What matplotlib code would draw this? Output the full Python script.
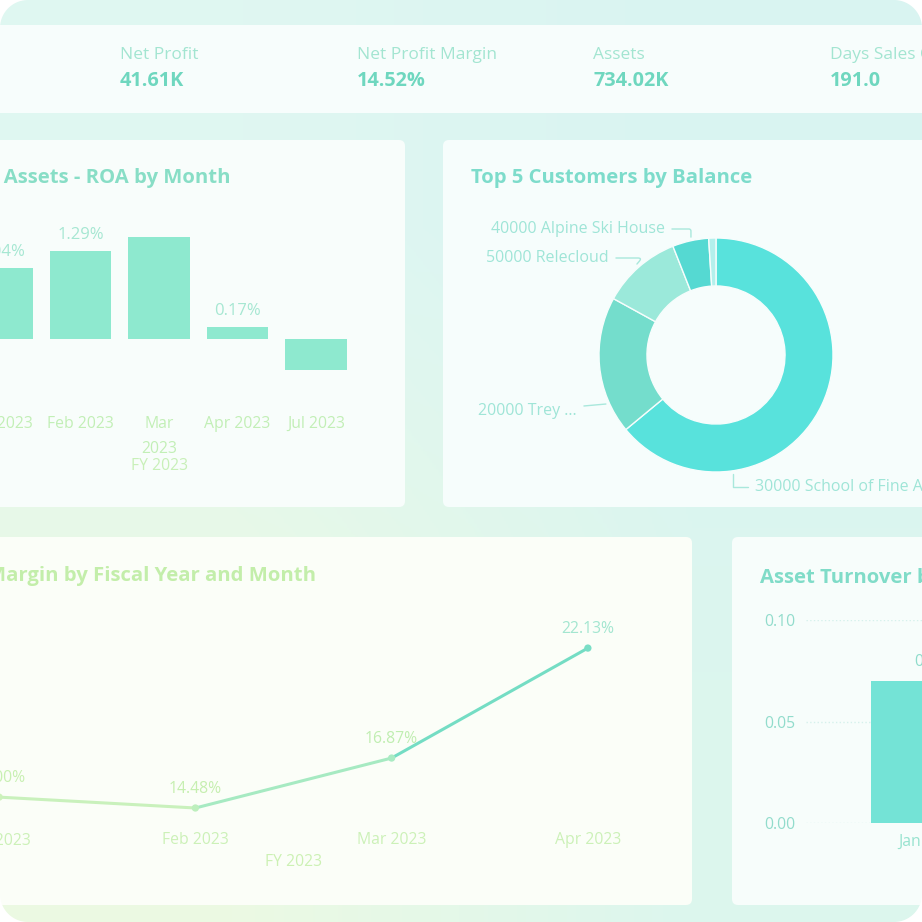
import numpy as np
import matplotlib.pyplot as plt
from matplotlib.patches import FancyBboxPatch, Polygon

plt.rcParams['font.family'] = ['Open Sans', 'DejaVu Sans']

W = 922

# KPI cards
kpi_names = ['Net Profit', 'Net Profit Margin', 'Assets', 'Days Sales Outstanding']
kpi_values = ['41.61K', '14.52%', '734.02K', '191.0']

# Return on assets by month (%)
roa_months = ['Jan 2023', 'Feb 2023', 'Mar\n2023', 'Apr 2023', 'Jul 2023']
roa_values = [1.04, 1.29, 1.50, 0.17, -0.45]
roa_labels = ['1.04%', '1.29%', '', '0.17%', '']

# top 5 customers by balance (share of total)
cust_names = ['30000 School of Fine Arts', '20000 Trey ...', '50000 Relecloud',
              '40000 Alpine Ski House', '10000 Adventure Works']
cust_share = [64, 19, 11, 5, 1]
cust_colors = ['#58e2dc', '#74ddcc', '#9be9da', '#55d9d2', '#b4f0ec']

# net profit margin by month (%)
npm_months = ['Jan 2023', 'Feb 2023', 'Mar 2023', 'Apr 2023']
npm_values = [15.00, 14.48, 16.87, 22.13]

# asset turnover by month
at_months = ['Jan 2023']
at_values = [0.07]

fig = plt.figure(figsize=(9.22, 9.22), dpi=100)
fig.patch.set_facecolor('white')


def px_axes(x0, y0, x1, y1, z=2):
    a = fig.add_axes([x0 / W, 1 - y1 / W, (x1 - x0) / W, (y1 - y0) / W], zorder=z)
    a.patch.set_alpha(0)
    return a


# background + panels in pixel coords
bg = fig.add_axes([0, 0, 1, 1], zorder=0)
grad = np.array([[[0.878, 0.969, 0.949], [0.851, 0.957, 0.949]],
                 [[0.925, 0.980, 0.890], [0.863, 0.965, 0.933]]])
bg.imshow(grad, extent=(0, W, W, 0), interpolation='bilinear', aspect='auto')
bg.set_xlim(0, W)
bg.set_ylim(W, 0)
bg.axis('off')

panels = [(-20, 25, 950, 113, '#f7fdfc'),
          (-20, 140, 405, 507, '#f8fdfb'),
          (443, 140, 950, 507, '#f6fdfc'),
          (-20, 537, 692, 905, '#fbfef8'),
          (732, 537, 950, 905, '#f7fdfb')]
for x0, y0, x1, y1, c in panels:
    bg.add_patch(FancyBboxPatch((x0, y0), x1 - x0, y1 - y0,
                                boxstyle='round,pad=0,rounding_size=6', fc=c, ec='none'))

# KPI strip
for i, (n, v) in enumerate(zip(kpi_names, kpi_values)):
    x = 120 + i * 236.7
    bg.text(x, 55, n, fontsize=12.5, color='#a3e5d1', va='center')
    bg.text(x, 81, v, fontsize=14.3, color='#6fd7bf', va='center', fontweight='bold')

# panel titles
tsize = 14.6
bg.text(230, 178, 'Return on Assets - ROA by Month', fontsize=tsize, fontweight='bold',
        color='#88dec6', ha='right', va='center')
bg.text(471, 178, 'Top 5 Customers by Balance', fontsize=tsize, fontweight='bold',
        color='#7ddccb', ha='left', va='center')
bg.text(316, 576, 'Net Profit Margin by Fiscal Year and Month', fontsize=tsize, fontweight='bold',
        color='#c3eeaa', ha='right', va='center')
bg.text(760, 578, 'Asset Turnover by Month', fontsize=tsize, fontweight='bold',
        color='#80dcc8', ha='left', va='center')

# ROA bar chart
ax1 = px_axes(-37.25, 220, 355.25, 405)
bars = ax1.bar(range(len(roa_values)), roa_values, width=0.78, color='#8ee9cf')
ax1.bar_label(bars, labels=roa_labels, padding=6, fontsize=12, color='#a6e7d2')
ax1.set_xlim(-0.5, len(roa_values) - 0.5)
ax1.set_ylim(-0.97, 1.745)
ax1.set_xticks(range(len(roa_months)))
ax1.set_xticklabels(roa_months, fontsize=11.3, color='#c2efb6', linespacing=1.75)
ax1.tick_params(axis='x', length=0, pad=8)
ax1.set_yticks([])
ax1.set_xlabel('FY 2023', fontsize=11.3, color='#c8f0b8', labelpad=1)
for s in ax1.spines.values():
    s.set_visible(False)

# donut
axd = px_axes(599, 238, 833, 472)
wedges, _ = axd.pie(cust_share, colors=cust_colors, startangle=90, counterclock=False,
                    radius=1, wedgeprops=dict(width=0.41, edgecolor='#f6fdfc', linewidth=1))
axd.set_xlim(-1, 1)
axd.set_ylim(-1, 1)
axd.set_aspect('equal')
axd.axis('off')


def to_d(px, py):
    return ((px - 716) / 117.0, (355 - py) / 117.0)


# label anchors (angle clockwise from top) and text spots
lab = [(0, 172, (755, 487), 'left', 'angle,angleA=0,angleB=90,rad=0'),
       (1, 246, (577, 411), 'right', 'arc3,rad=0'),
       (2, 319, (609, 258), 'right', 'angle,angleA=0,angleB=50,rad=4'),
       (3, 348, (665, 229), 'right', 'angle,angleA=0,angleB=90,rad=2')]
for k, ang, (tx, ty), ha, cs in lab:
    t = np.deg2rad(ang)
    axd.annotate(cust_names[k], xy=(1.03 * np.sin(t), 1.03 * np.cos(t)), xytext=to_d(tx, ty),
                 ha=ha, va='center', fontsize=11.5, color='#9fe5d7', annotation_clip=False,
                 arrowprops=dict(arrowstyle='-', color='#a9e8dc', lw=1, connectionstyle=cs,
                                 shrinkA=3, shrinkB=0))

# net profit margin line
ax3 = px_axes(-99, 600, 686, 822)
seg_colors = ['#c9f1bc', '#a6eac2', '#74ddc4']
xs = range(len(npm_values))
for i in range(len(npm_values) - 1):
    ax3.plot([i, i + 1], npm_values[i:i + 2], color=seg_colors[i], lw=2.2, solid_capstyle='round')
pt_colors = ['#cdf2bb', '#bdefbd', '#a9ebc3', '#79dec6']
ax3.scatter(xs, npm_values, s=18, color=pt_colors, zorder=3)
lab_colors = ['#c8f0b2', '#c6efb0', '#c0eeb1', '#a3e6d0']
for i, v in enumerate(npm_values):
    ax3.annotate(f'{v:.2f}%', (i, v), xytext=(0, 14), textcoords='offset points',
                 ha='center', va='center', fontsize=11.3, color=lab_colors[i])
ax3.set_xlim(-0.5, len(npm_values) - 0.5)
ax3.set_ylim(13.81, 24.43)
ax3.set_xticks(list(xs))
ax3.set_xticklabels(npm_months, fontsize=11.3, color='#ccf1b8')
ax3.tick_params(axis='x', length=0, pad=7.5)
ax3.set_yticks([])
ax3.set_xlabel('FY 2023', fontsize=11.3, color='#ccf1b4', labelpad=4)
for s in ax3.spines.values():
    s.set_visible(False)

# asset turnover bars
ax4 = px_axes(806, 620, 1054, 823)
b4 = ax4.bar(range(len(at_values)), at_values, width=0.476, color='#74e3d6')
ax4.bar_label(b4, labels=[f'{v:.2f}' for v in at_values], padding=8, fontsize=11.3, color='#8fdccb')
ax4.set_xlim(-0.5, len(at_values) - 0.5)
ax4.set_ylim(0, 0.1)
ax4.set_yticks([0, 0.05, 0.10])
ax4.set_yticklabels(['0.00', '0.05', '0.10'], fontsize=11.3, color='#92dccc')
ax4.set_xticks(range(len(at_months)))
ax4.set_xticklabels(at_months, fontsize=11.3, color='#98e3cf')
ax4.tick_params(length=0, pad=8)
ax4.grid(axis='y', linestyle=':', color='#d6f1ec', lw=1)
ax4.set_axisbelow(True)
for s in ax4.spines.values():
    s.set_visible(False)

# rounded outer corners
top = fig.add_axes([0, 0, 1, 1], zorder=20)
top.patch.set_alpha(0)
top.set_xlim(0, W)
top.set_ylim(W, 0)
top.axis('off')
r = 28
t = np.linspace(0, np.pi / 2, 24)
for X, Y, sx, sy in [(0, 0, 1, 1), (W, 0, -1, 1), (0, W, 1, -1), (W, W, -1, -1)]:
    cx, cy = X + sx * r, Y + sy * r
    arc = np.column_stack([cx - sx * r * np.cos(t), cy - sy * r * np.sin(t)])
    top.add_patch(Polygon(np.vstack([[X, Y], arc]), closed=True, fc='white', ec='none'))

plt.savefig('out.png', dpi=100)
